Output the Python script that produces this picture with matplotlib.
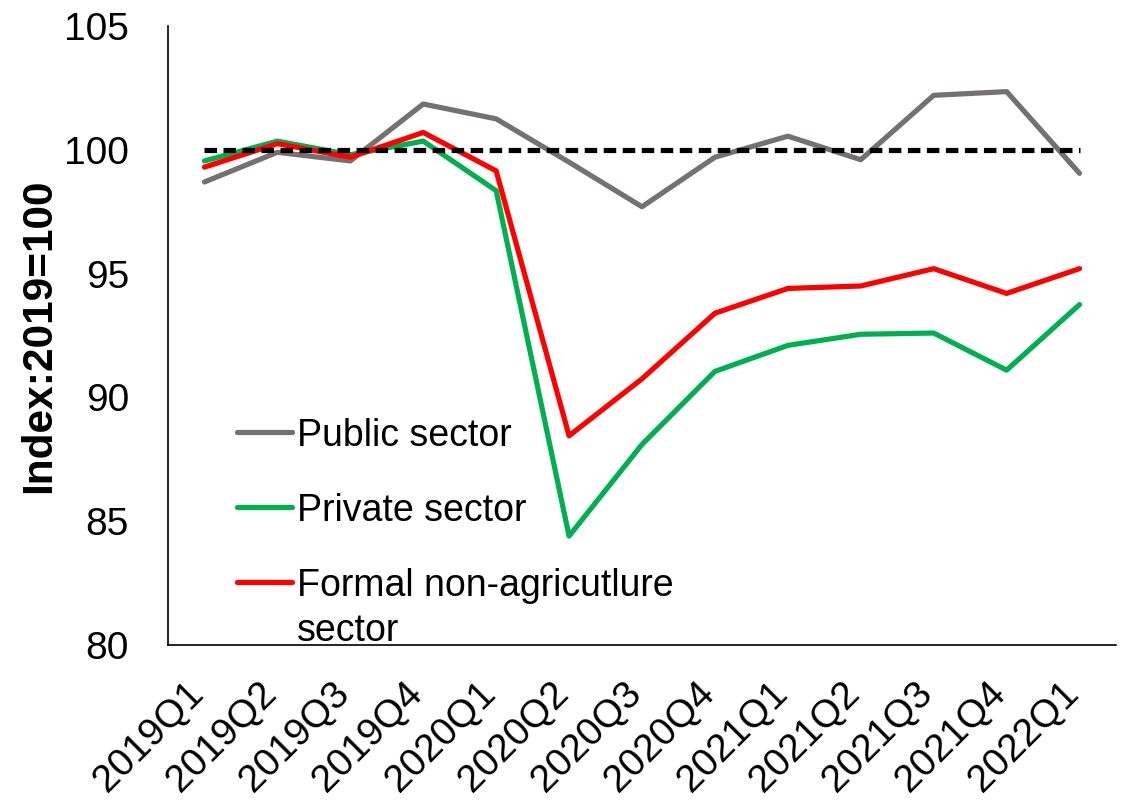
import matplotlib
matplotlib.use("Agg")
import matplotlib.pyplot as plt
from matplotlib.transforms import ScaledTranslation

plt.rcParams["font.family"] = ["Liberation Sans", "DejaVu Sans"]

quarters = ["2019Q1", "2019Q2", "2019Q3", "2019Q4",
            "2020Q1", "2020Q2", "2020Q3", "2020Q4",
            "2021Q1", "2021Q2", "2021Q3", "2021Q4",
            "2022Q1"]

public_sector = [98.7, 99.9, 99.55, 101.85, 101.25, 99.5, 97.7,
                 99.7, 100.55, 99.6, 102.2, 102.35, 99.05]
private_sector = [99.55, 100.35, 99.8, 100.35, 98.35, 84.4, 88.1,
                  91.05, 92.1, 92.55, 92.6, 91.1, 93.75]
formal_nonagri = [99.3, 100.25, 99.7, 100.7, 99.15, 88.45, 90.75,
                  93.4, 94.4, 94.5, 95.2, 94.2, 95.2]
baseline = [100] * len(quarters)

GREY = "#767171"
GREEN = "#00B050"
RED = "#FF0000"

fig = plt.figure(figsize=(11.22, 8.07), dpi=100)
ax = fig.add_axes([168 / 1122, 162 / 807, 948 / 1122, 619 / 807])

x = range(len(quarters))
lw = 3.75
style = dict(lw=lw, solid_capstyle="round", solid_joinstyle="round")
ax.plot(x, public_sector, color=GREY, label="Public sector", **style)
ax.plot(x, private_sector, color=GREEN, label="Private sector", **style)
ax.plot(x, formal_nonagri, color=RED,
        label="Formal non-agricutlure\nsector", **style)
ax.plot(x, baseline, color="black", lw=lw, dashes=(2.4, 1.25), zorder=5)

ax.set_xlim(-0.5, len(quarters) - 0.5)
ax.set_ylim(80, 105)
ax.set_yticks([80, 85, 90, 95, 100, 105])
ax.set_xticks(list(x))
ax.set_xticklabels(quarters, rotation=45, ha="right", va="top",
                   rotation_mode="anchor")
ax.tick_params(axis="x", length=0, pad=27, labelsize=28)
ax.tick_params(axis="y", length=0, pad=28, labelsize=28)

# nudge the slanted quarter labels so their ends sit under the ticks
shift = ScaledTranslation(-0.19, 0.07, fig.dpi_scale_trans)
for lab in ax.get_xticklabels():
    lab.set_transform(lab.get_transform() + shift)

for side in ("top", "right"):
    ax.spines[side].set_visible(False)
for side in ("left", "bottom"):
    ax.spines[side].set_linewidth(1.2)
    ax.spines[side].set_color("black")

ax.set_ylabel("Index:2019=100", fontsize=30.5, fontweight="bold")
ax.yaxis.label.set_va("center")
ax.yaxis.set_label_coords(-0.136, 0.5)

leg = ax.legend(loc="upper left", bbox_to_anchor=(0.073, 0.366),
                frameon=False, fontsize=27, handlelength=1.47,
                handletextpad=0.13, labelspacing=1.04,
                borderpad=0, borderaxespad=0)
# keep each handle level with the first line of its label
for col in leg._legend_handle_box.get_children():
    for item in col.get_children():
        item.align = "top"
for txt in leg.get_texts():
    txt.set_linespacing(1.32)

fig.savefig("out.png", dpi=100)
